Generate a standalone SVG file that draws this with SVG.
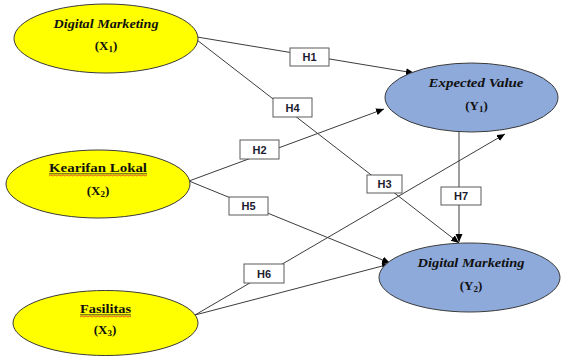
<svg xmlns="http://www.w3.org/2000/svg" width="561" height="356" viewBox="0 0 561 356">
  <defs>
    <marker id="arrow" markerWidth="9" markerHeight="8" refX="8" refY="3.5" orient="auto" markerUnits="userSpaceOnUse">
      <path d="M0,0 L8,3.5 L0,7 z" fill="#000"/>
    </marker>
  </defs>
  <style>
    .exo { fill: #ffff00; stroke: #3a3a3a; stroke-width: 1; }
    .endo { fill: #8eaadb; stroke: #3a3a3a; stroke-width: 1; }
    .t { font-family: "Liberation Serif", "Times New Roman", serif; font-weight: bold; font-size: 13px; fill: #111; text-anchor: middle; }
    .it { font-style: italic; }
    .sub { font-size: 9px; }
    .edge { stroke: #3c3c3c; stroke-width: 1; fill: none; }
    .arr { marker-end: url(#arrow); }
    .box { fill: #fff; stroke: #5a5a5a; stroke-width: 1; }
    .hl { font-family: "Liberation Sans", Arial, sans-serif; font-weight: bold; font-size: 11px; fill: #1c1c30; text-anchor: middle; }
    .ul { stroke: #222; stroke-width: 0.8; }
    .wavy { stroke: #e0402a; stroke-width: 0.8; fill: none; }
  </style>

  <g id="connectors">
    <line class="edge arr" x1="197" y1="37" x2="414" y2="73"/>
    <line class="edge arr" x1="197" y1="40" x2="459" y2="243"/>
    <line class="edge arr" x1="189" y1="181" x2="384" y2="109"/>
    <line class="edge arr" x1="189" y1="181" x2="390" y2="263"/>
    <line class="edge arr" x1="195" y1="315" x2="505" y2="134"/>
    <line class="edge arr" x1="195" y1="315" x2="390" y2="264"/>
    <line class="edge arr" x1="459" y1="132" x2="459" y2="242"/>

    <g id="label-H1"><rect class="box" x="290" y="48" width="39" height="18"/><text class="hl" x="309.5" y="61">H1</text></g>
    <g id="label-H4"><rect class="box" x="273" y="98" width="39" height="19"/><text class="hl" x="292.5" y="111.5">H4</text></g>
    <g id="label-H2"><rect class="box" x="240" y="140" width="39" height="19"/><text class="hl" x="259.5" y="153.5">H2</text></g>
    <g id="label-H3"><rect class="box" x="367" y="175" width="35" height="18"/><text class="hl" x="384.5" y="188">H3</text></g>
    <g id="label-H5"><rect class="box" x="229" y="197" width="39" height="18"/><text class="hl" x="248.5" y="210">H5</text></g>
    <g id="label-H6"><rect class="box" x="244" y="264" width="40" height="19"/><text class="hl" x="264" y="277.5">H6</text></g>
    <g id="label-H7"><rect class="box" x="441" y="187" width="40" height="18"/><text class="hl" x="461" y="200">H7</text></g>
  </g>

  <g id="X1">
    <ellipse class="exo" cx="106" cy="38.5" rx="92" ry="34.5"/>
    <text class="t it" x="106" y="28" textLength="105" lengthAdjust="spacingAndGlyphs">Digital Marketing</text>
    <text class="t" x="106" y="50">(X<tspan class="sub" dy="2">1</tspan><tspan dy="-2">)</tspan></text>
  </g>

  <g id="X2">
    <ellipse class="exo" cx="98" cy="184" rx="92" ry="34"/>
    <text class="t" x="98" y="172" textLength="98" lengthAdjust="spacingAndGlyphs">Kearifan Lokal</text>
    <line class="ul" x1="49" y1="173.8" x2="147" y2="173.8"/>
    <polyline class="wavy" points="49,176 51,175 53,176 55,175 57,176 59,175 61,176 63,175 65,176 67,175 69,176 71,175 73,176 75,175 77,176 79,175 81,176 83,175 85,176 87,175 89,176 91,175 93,176 95,175 97,176 99,175 101,176 103,175 105,176 107,175 109,176 111,175 113,176 115,175 117,176 119,175 121,176 123,175 125,176 127,175 129,176 131,175 133,176 135,175 137,176 139,175 141,176 143,175 145,176 147,175"/>
    <text class="t" x="98" y="195">(X<tspan class="sub" dy="2">2</tspan><tspan dy="-2">)</tspan></text>
  </g>

  <g id="X3">
    <ellipse class="exo" cx="105.5" cy="323" rx="92.5" ry="32.5"/>
    <text class="t" x="105.5" y="313" textLength="51" lengthAdjust="spacingAndGlyphs">Fasilitas</text>
    <line class="ul" x1="80" y1="314.8" x2="131" y2="314.8"/>
    <polyline class="wavy" points="80,317 82,316 84,317 86,316 88,317 90,316 92,317 94,316 96,317 98,316 100,317 102,316 104,317 106,316 108,317 110,316 112,317 114,316 116,317 118,316 120,317 122,316 124,317 126,316 128,317 130,316 131,317"/>
    <text class="t" x="105" y="334">(X<tspan class="sub" dy="2">3</tspan><tspan dy="-2">)</tspan></text>
  </g>

  <g id="Y1">
    <ellipse class="endo" cx="471.5" cy="97.5" rx="86.5" ry="34.5"/>
    <text class="t it" x="476" y="87" textLength="95" lengthAdjust="spacingAndGlyphs">Expected Value</text>
    <text class="t" x="476.5" y="110">(Y<tspan class="sub" dy="2">1</tspan><tspan dy="-2">)</tspan></text>
  </g>

  <g id="Y2">
    <ellipse class="endo" cx="469.5" cy="277.5" rx="90.5" ry="34.5"/>
    <text class="t it" x="471" y="267" textLength="107" lengthAdjust="spacingAndGlyphs">Digital Marketing</text>
    <text class="t" x="471" y="290">(Y<tspan class="sub" dy="2">2</tspan><tspan dy="-2">)</tspan></text>
  </g>
</svg>
